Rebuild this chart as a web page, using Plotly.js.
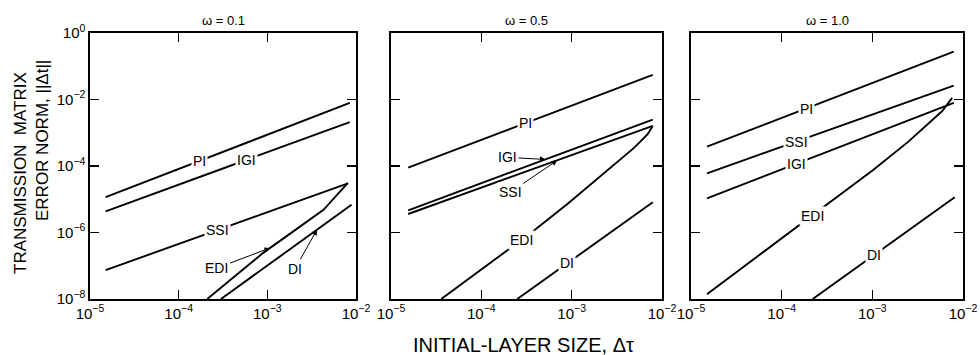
<!DOCTYPE html>
<html>
<head>
<meta charset="utf-8">
<script src="https://cdn.plot.ly/plotly-3.0.1.min.js"></script>
<style>
  html, body { margin: 0; padding: 0; background: #fff; }
  #chart { width: 980px; height: 355px; }
</style>
</head>
<body>
<div id="chart"></div>
<script>
// Tick values and labels (log axes)
const xTickVals = [1e-5, 1e-4, 1e-3, 1e-2];
const xTickText = ['10<sup>−5</sup>', '10<sup>−4</sup>', '10<sup>−3</sup>', '10<sup>−2</sup>'];
const yTickVals = [1, 1e-2, 1e-4, 1e-6, 1e-8];
const yTickText = ['10<sup>0</sup>', '10<sup>−2</sup>', '10<sup>−4</sup>', '10<sup>−6</sup>', '10<sup>−8</sup>'];

const panelTitles = ['ω = 0.1', 'ω = 0.5', 'ω = 1.0'];

// ω = 0.1
const w1_PI_x  = [1.5e-5, 8.5e-3];  const w1_PI_y  = [1.15e-5, 7.9e-3];
const w1_IGI_x = [1.5e-5, 8.5e-3];  const w1_IGI_y = [4.3e-6, 2.1e-3];
const w1_SSI_x = [1.5e-5, 8.1e-3];  const w1_SSI_y = [7.4e-8, 3.0e-5];
const w1_EDI_x = [2.1e-4, 8.9e-4, 2.0e-3, 4.3e-3, 8.1e-3];
const w1_EDI_y = [1e-8, 2.4e-7, 1.12e-6, 4.8e-6, 3.1e-5];
const w1_DI_x  = [3.0e-4, 8.9e-3];  const w1_DI_y  = [1e-8, 6.8e-6];

// ω = 0.5
const w5_PI_x  = [1.55e-5, 7.9e-3]; const w5_PI_y  = [8.9e-5, 5.5e-2];
const w5_IGI_x = [1.55e-5, 7.9e-3]; const w5_IGI_y = [4.6e-6, 2.5e-3];
const w5_SSI_x = [1.55e-5, 7.9e-3]; const w5_SSI_y = [3.6e-6, 1.6e-3];
const w5_EDI_x = [3.6e-5, 3.8e-4, 8.9e-4, 2.1e-3, 4.9e-3, 6.9e-3, 7.9e-3];
const w5_EDI_y = [1e-8, 1.12e-6, 7.1e-6, 5.0e-5, 3.5e-4, 8.9e-4, 1.6e-3];
const w5_DI_x  = [2.5e-4, 7.9e-3];  const w5_DI_y  = [1e-8, 8.1e-6];

// ω = 1.0
const w10_PI_x  = [1.5e-5, 7.9e-3]; const w10_PI_y  = [3.8e-4, 0.275];
const w10_SSI_x = [1.5e-5, 7.9e-3]; const w10_SSI_y = [6.0e-5, 2.6e-2];
const w10_IGI_x = [1.5e-5, 7.9e-3]; const w10_IGI_y = [1.07e-5, 7.9e-3];
const w10_EDI_x = [1.5e-5, 5.4e-4, 1.02e-3, 2.5e-3, 5.9e-3, 7.6e-3];
const w10_EDI_y = [1.4e-8, 2.0e-5, 7.6e-5, 5.4e-4, 4.5e-3, 1.12e-2];
const w10_DI_x  = [2.2e-4, 8.1e-3]; const w10_DI_y  = [1e-8, 1.15e-5];

const panels = [
  { PI: [w1_PI_x, w1_PI_y], IGI: [w1_IGI_x, w1_IGI_y], SSI: [w1_SSI_x, w1_SSI_y],
    EDI: [w1_EDI_x, w1_EDI_y], DI: [w1_DI_x, w1_DI_y] },
  { PI: [w5_PI_x, w5_PI_y], IGI: [w5_IGI_x, w5_IGI_y], SSI: [w5_SSI_x, w5_SSI_y],
    EDI: [w5_EDI_x, w5_EDI_y], DI: [w5_DI_x, w5_DI_y] },
  { PI: [w10_PI_x, w10_PI_y], SSI: [w10_SSI_x, w10_SSI_y], IGI: [w10_IGI_x, w10_IGI_y],
    EDI: [w10_EDI_x, w10_EDI_y], DI: [w10_DI_x, w10_DI_y] }
];

// Where each curve name is written: on the line (log10 x), or beside it with an arrow
const labelSpots = [
  [ { s: 'PI', lx: -3.76 }, { s: 'IGI', lx: -3.23 }, { s: 'SSI', lx: -3.56 },
    { s: 'EDI', lx: -2.97, ax: -53, ay: 20 }, { s: 'DI', lx: -2.44, ax: -22, ay: 39 } ],
  [ { s: 'PI', lx: -3.51 }, { s: 'IGI', lx: -3.29, ax: -38, ay: -2 },
    { s: 'SSI', lx: -3.16, ax: -47, ay: 32 }, { s: 'EDI', lx: -3.55 }, { s: 'DI', lx: -3.05 } ],
  [ { s: 'PI', lx: -3.73 }, { s: 'SSI', lx: -3.84 }, { s: 'IGI', lx: -3.84 },
    { s: 'EDI', lx: -3.66 }, { s: 'DI', lx: -2.98 } ]
];

const FONT = 'Liberation Sans, Arial, sans-serif';
const xDomains = [[90 / 980, 356 / 980], [391 / 980, 662 / 980], [691 / 980, 963 / 980]];
const yDomain = [56 / 355, 322 / 355];

// log-log interpolation along a curve
function logYAt(xs, ys, lx) {
  const L = xs.map(v => Math.log10(v)), M = ys.map(v => Math.log10(v));
  let i = 0;
  while (i < L.length - 2 && lx > L[i + 1]) i++;
  const t = (lx - L[i]) / (L[i + 1] - L[i]);
  return M[i] + t * (M[i + 1] - M[i]);
}

const traces = [];
const annotations = [];
const layout = {
  width: 980, height: 355,
  margin: { l: 0, r: 0, t: 0, b: 0 },
  paper_bgcolor: '#fff', plot_bgcolor: '#fff',
  showlegend: false,
  font: { family: FONT, color: '#000' }
};

panels.forEach((p, k) => {
  const n = k === 0 ? '' : String(k + 1);
  Object.keys(p).forEach(name => {
    traces.push({
      type: 'scatter', mode: 'lines', name: name,
      x: p[name][0], y: p[name][1],
      xaxis: 'x' + n, yaxis: 'y' + n,
      line: { color: '#000', width: 1.9 },
      hoverinfo: 'skip'
    });
  });

  const axCommon = {
    type: 'log', showgrid: false, zeroline: false,
    showline: true, linecolor: '#000', linewidth: 1.6,
    mirror: 'ticks', ticks: 'inside', ticklen: 9, tickwidth: 1.4, tickcolor: '#000',
    tickfont: { family: FONT, size: 15, color: '#000' }
  };
  layout['xaxis' + n] = Object.assign({}, axCommon, {
    domain: xDomains[k], range: [-5, -2], anchor: 'y' + n,
    tickmode: 'array', tickvals: xTickVals, ticktext: xTickText
  });
  layout['yaxis' + n] = Object.assign({}, axCommon, {
    domain: yDomain, range: [-8, 0], anchor: 'x' + n,
    tickmode: 'array', tickvals: yTickVals, ticktext: yTickText,
    showticklabels: k === 0
  });

  annotations.push({
    xref: 'paper', yref: 'paper', x: (xDomains[k][0] + xDomains[k][1]) / 2, y: 1 - 20 / 355,
    xanchor: 'center', yanchor: 'middle',
    text: panelTitles[k], showarrow: false, font: { family: FONT, size: 13, color: '#000' }
  });

  labelSpots[k].forEach(l => {
    const ly = logYAt(p[l.s][0], p[l.s][1], l.lx);
    const a = {
      xref: 'x' + n, yref: 'y' + n, x: l.lx, y: ly, text: l.s,
      xanchor: 'center', yanchor: 'middle',
      font: { family: FONT, size: 14, color: '#000' },
      bgcolor: '#fff', borderpad: 1
    };
    if (l.ax !== undefined) {
      Object.assign(a, { showarrow: true, ax: l.ax, ay: l.ay, arrowhead: 2,
        arrowsize: 1.1, arrowwidth: 1, arrowcolor: '#000', standoff: 0 });
    } else {
      a.showarrow = false;
    }
    annotations.push(a);
  });
});

// Axis titles
annotations.push({
  xref: 'paper', yref: 'paper', x: 20 / 980, y: 1 - 173 / 355, textangle: -90,
  xanchor: 'center', yanchor: 'middle',
  text: 'TRANSMISSION  MATRIX', showarrow: false,
  font: { family: FONT, size: 17, color: '#000' }
});
annotations.push({
  xref: 'paper', yref: 'paper', x: 42 / 980, y: 1 - 141 / 355, textangle: -90,
  xanchor: 'center', yanchor: 'middle',
  text: 'ERROR NORM, ||Δt||', showarrow: false,
  font: { family: FONT, size: 17, color: '#000' }
});
annotations.push({
  xref: 'paper', yref: 'paper', x: 523 / 980, y: 1 - 345 / 355,
  xanchor: 'center', yanchor: 'middle',
  text: 'INITIAL-LAYER SIZE, Δτ', showarrow: false,
  font: { family: FONT, size: 20, color: '#000' }
});

layout.annotations = annotations;
Plotly.newPlot('chart', traces, layout, { staticPlot: true, displayModeBar: false });
</script>
</body>
</html>
